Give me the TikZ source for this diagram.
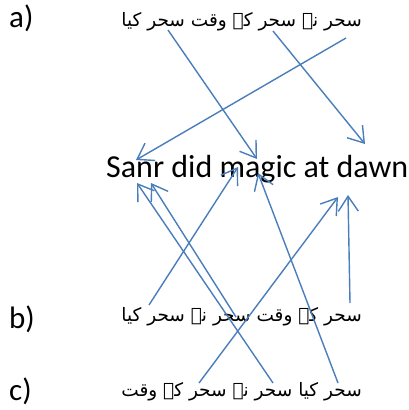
\documentclass[tikz,border=0pt]{standalone}
\usepackage{fontspec}
\setmainfont{Carlito}
\newfontfamily\urdufont[Script=Arabic]{DejaVu Sans}
\TeXXeTstate=1
\usetikzlibrary{arrows.meta}
\definecolor{flechaazul}{HTML}{4A7EBB}

\begin{document}
\begin{tikzpicture}[x=1pt,y=-1pt,
    flecha/.style={-{Straight Barb[length=15pt, width=20pt]}, line width=1.4pt, flechaazul},
    etiq/.style={anchor=base west, inner sep=0pt, font=\fontsize{31}{31}\selectfont},
    urdu/.style={anchor=base east, inner sep=0pt, font=\urdufont\fontsize{18.5}{18.5}\selectfont}]
    % Establecer los límites del dibujo
    \useasboundingbox[fill=white] (0,0) rectangle (409,410);

    % Etiquetas de cada fila
    \node[etiq] (lblA) at (9,27) {a)};
    \node[etiq] (lblB) at (9,328) {b)};
    \node[etiq] (lblC) at (9,400) {c)};

    % Las tres oraciones en urdu
    \node[urdu] (urA) at (362,26) {\beginR سحر نے سحر کے وقت سحر کیا\endR};
    \node[urdu] (urB) at (362,321) {\beginR سحر کے وقت سحر نے سحر کیا\endR};
    \node[urdu] (urC) at (362,396) {\beginR سحر کیا سحر نے سحر کے وقت\endR};

    % La oración en inglés
    \node[etiq, font=\fontsize{32}{32}\selectfont] (eng) at (106,177) {Sanr did magic at dawn};

    % Puntos de salida en las palabras urdu
    \coordinate (aSahar) at (346,38);
    \coordinate (aDawn)  at (273,31);
    \coordinate (aMagic) at (168,30);
    \coordinate (bDawn)  at (350,303);
    \coordinate (bSahar) at (236,317);
    \coordinate (bMagic) at (149,305);
    \coordinate (cMagic) at (338,383);
    \coordinate (cSahar) at (273,383);
    \coordinate (cDawn)  at (199,383);

    % Puntos de llegada en las palabras inglesas
    \coordinate (eSanrA)  at (136,160);
    \coordinate (eMagicA) at (257,159);
    \coordinate (eDawnA)  at (365,144);
    \coordinate (eDawnB)  at (348,195);
    \coordinate (eSanrB)  at (151,183);
    \coordinate (eMagicB) at (238,167);
    \coordinate (eMagicC) at (258,173);
    \coordinate (eSanrC)  at (137,183);
    \coordinate (eDawnC)  at (338,197);

    % Flechas de la fila a)
    \draw[flecha] (aSahar) -- (eSanrA);
    \draw[flecha] (aDawn) -- (eDawnA);
    \draw[flecha] (aMagic) -- (eMagicA);

    % Flechas de la fila b)
    \draw[flecha] (bDawn) -- (eDawnB);
    \draw[flecha] (bSahar) -- (eSanrB);
    \draw[flecha] (bMagic) -- (eMagicB);

    % Flechas de la fila c)
    \draw[flecha] (cMagic) -- (eMagicC);
    \draw[flecha] (cSahar) -- (eSanrC);
    \draw[flecha] (cDawn) -- (eDawnC);

\end{tikzpicture}
\end{document}
